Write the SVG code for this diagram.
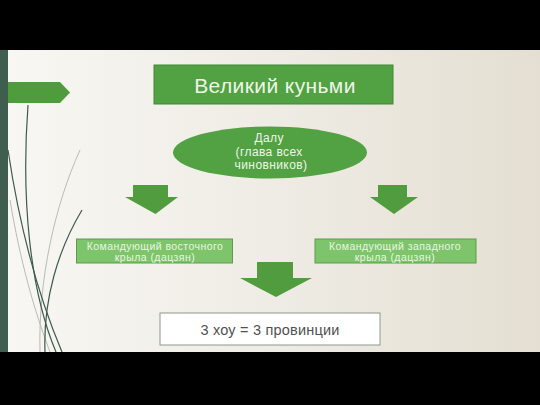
<svg xmlns="http://www.w3.org/2000/svg" width="540" height="405" viewBox="0 0 540 405">
<defs>
<linearGradient id="bg" x1="0" y1="0" x2="1" y2="0">
<stop offset="0" stop-color="#f8f7f3"/>
<stop offset="0.5" stop-color="#efece5"/>
<stop offset="1" stop-color="#e4dfd2"/>
</linearGradient>
<style>
.arrow{fill:#519c3e}
.wing{fill:#7dc46a;stroke:#5e9c4c;stroke-width:1}
.wt{font-family:"Liberation Sans",Arial,sans-serif;font-size:10.5px;letter-spacing:0.45px;fill:#e9f6e2;text-anchor:middle}
.curve{fill:none;stroke:#3e5a4c;stroke-width:1.2}
.curve2{fill:none;stroke:#b9bcb2;stroke-width:1}
</style>
</defs>
<rect x="0" y="0" width="540" height="405" fill="#000"/>
<rect x="0" y="50" width="540" height="302" fill="url(#bg)"/>
<rect x="0" y="50" width="8" height="302" fill="#3f5e4f"/>
<polygon points="8,82 60,82 70,92.5 60,103 8,103" fill="#4f9c3d"/>
<g id="decor">
<path class="curve2" d="M80 150 C55 205 38 280 40 352"/>
<path class="curve2" d="M10 200 C20 260 34 310 50 352"/>
<path class="curve" d="M28 105 C21 200 30 290 56 352"/>
<path class="curve" d="M8 150 C20 230 40 300 62 352"/>
<path class="curve" d="M82 210 C58 250 43 300 45 352"/>
</g>
<g id="connectors">
<polygon class="arrow" points="133,185 168,185 168,197 178,197 155.5,214 125,197 133,197"/>
<polygon class="arrow" points="378,185 407,185 407,197 418,197 394,214 370,197 378,197"/>
<polygon class="arrow" points="257,262 293,262 293,278 312,278 276,297 240,278 257,278"/>
</g>
<g id="title">
<rect x="154" y="65" width="239" height="39" fill="#52a142" stroke="#3f8a33" stroke-width="1"/>
<text x="275" y="92.5" font-family="'Liberation Sans',Arial,sans-serif" font-size="21" letter-spacing="0.4" fill="#eef6e8" text-anchor="middle">Великий куньми</text>
</g>
<g id="dalu">
<ellipse cx="270" cy="152.5" rx="97" ry="26" fill="#52a142"/>
<text font-family="'Liberation Sans',Arial,sans-serif" font-size="12" letter-spacing="0.4" fill="#eef6e8" text-anchor="middle">
<tspan x="271" y="141.5">Далу</tspan>
<tspan x="271" y="156">(глава всех</tspan>
<tspan x="271" y="169">чиновников)</tspan>
</text>
</g>
<g id="east">
<rect class="wing" x="76.5" y="239" width="156" height="24"/>
<text class="wt"><tspan x="155" y="250">Командующий восточного</tspan><tspan x="155" y="261">крыла (дацзян)</tspan></text>
</g>
<g id="west">
<rect class="wing" x="315" y="239" width="161" height="24"/>
<text class="wt"><tspan x="395" y="250">Командующий западного</tspan><tspan x="395" y="261">крыла (дацзян)</tspan></text>
</g>
<g id="hou">
<rect x="160" y="313" width="220" height="32" fill="#fff" stroke="#8a9a88" stroke-width="1"/>
<text x="270" y="334.5" font-family="'Liberation Sans',Arial,sans-serif" font-size="14.5" letter-spacing="0.2" fill="#505050" text-anchor="middle">3 хоу = 3 провинции</text>
</g>
</svg>
